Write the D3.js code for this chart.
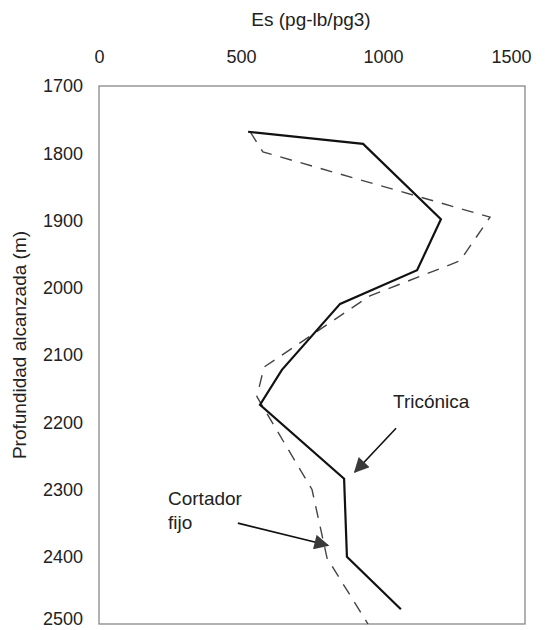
<!DOCTYPE html>
<html>
<head>
<meta charset="utf-8">
<script src="https://cdn.jsdelivr.net/npm/d3@7"></script>
<style>
  body { margin: 0; background: #fff; }
  text { font-family: "Liberation Sans", Arial, sans-serif; fill: #222; }
</style>
</head>
<body>
<svg id="chart" width="549" height="630"></svg>
<script>
// values (Es vs depth)
var xTicks = [0, 500, 1000, 1500];
var yTicks = [1700, 1800, 1900, 2000, 2100, 2200, 2300, 2400, 2500];

// Triconica (solid line)
var triEs    = [525, 930, 1204, 1120, 849, 644, 567, 863, 873, 1063];
var triDepth = [1768, 1786, 1898, 1974, 2024, 2122, 2174, 2284, 2400, 2478];

// Cortador fijo (dashed line)
var cfEs    = [532, 577, 1377, 1271, 954, 581, 556, 750, 803, 947];
var cfDepth = [1768, 1798, 1895, 1960, 2012, 2118, 2162, 2300, 2402, 2500];

// annotation arrows: [Es, depth] from -> to
var triArrow = [[1046, 2209], [901, 2274]];
var cfArrow  = [[489, 2350], [806, 2383]];

var svg = d3.select("#chart");
var pLeft = 99, pRight = 525, pTop = 86, pBottom = 624;

var scX = d3.scaleLinear().domain([0, 1500]).range([pLeft, pRight]);
var scY = d3.scaleLinear().domain([1700, 2500]).range([pTop, pBottom]);

// arrow head
svg.append("defs").append("marker")
    .attr("id", "head")
    .attr("viewBox", "0 0 10 10")
    .attr("refX", 9).attr("refY", 5)
    .attr("markerUnits", "userSpaceOnUse")
    .attr("markerWidth", 18).attr("markerHeight", 15)
    .attr("orient", "auto")
    .append("path")
    .attr("d", "M0,0 L10,5 L0,10 Z")
    .attr("fill", "#3a3a3a");

// plot frame
svg.append("rect")
    .attr("x", pLeft).attr("y", pTop)
    .attr("width", pRight - pLeft).attr("height", pBottom - pTop)
    .attr("fill", "none").attr("stroke", "#888").attr("stroke-width", 1.3);

// axes
var gx = svg.append("g").attr("transform", "translate(0," + pTop + ")")
    .call(d3.axisTop(scX).tickValues(xTicks).tickSize(0).tickPadding(23).tickFormat(d3.format("d")));
gx.select(".domain").remove();
gx.selectAll("text").attr("font-size", 18).style("font-family", "Liberation Sans, Arial, sans-serif").attr("fill", "#222");
gx.selectAll(".tick").filter(d => d === 1500).select("text").attr("dx", -14);

var gy = svg.append("g").attr("transform", "translate(" + pLeft + ",0)")
    .call(d3.axisLeft(scY).tickValues(yTicks).tickSize(0).tickPadding(16).tickFormat(d3.format("d")));
gy.select(".domain").remove();
gy.selectAll("text").attr("font-size", 18).style("font-family", "Liberation Sans, Arial, sans-serif").attr("fill", "#222");
gy.selectAll(".tick").filter(d => d === 2500).select("text").attr("dy", "0.04em");

// axis titles
svg.append("text")
    .attr("x", 311).attr("y", 26)
    .attr("text-anchor", "middle").attr("font-size", 19)
    .text("Es (pg-lb/pg3)");

svg.append("text")
    .attr("transform", "translate(26,345) rotate(-90)")
    .attr("text-anchor", "middle").attr("font-size", 19)
    .text("Profundidad alcanzada (m)");

var lineMaker = d3.line()
    .x(d => scX(d[0]))
    .y(d => scY(d[1]));

var triData = triEs.map((v, i) => [v, triDepth[i]]);
var cfData  = cfEs.map((v, i) => [v, cfDepth[i]]);

svg.append("path")
    .attr("fill", "none").attr("stroke", "#444")
    .attr("stroke-width", 1.4).attr("stroke-dasharray", "12,9")
    .attr("d", lineMaker(cfData));

svg.append("path")
    .attr("fill", "none").attr("stroke", "#111")
    .attr("stroke-width", 2.2).attr("stroke-linejoin", "miter")
    .attr("d", lineMaker(triData));

// annotations
[triArrow, cfArrow].forEach(function (a) {
    svg.append("line")
        .attr("x1", scX(a[0][0])).attr("y1", scY(a[0][1]))
        .attr("x2", scX(a[1][0])).attr("y2", scY(a[1][1]))
        .attr("stroke", "#111").attr("stroke-width", 1.6)
        .attr("marker-end", "url(#head)");
});

svg.append("text")
    .attr("x", 393).attr("y", 408).attr("font-size", 19)
    .text("Tricónica");

svg.append("text")
    .attr("x", 168).attr("y", 505).attr("font-size", 19)
    .text("Cortador");
svg.append("text")
    .attr("x", 168).attr("y", 529).attr("font-size", 19)
    .text("fijo");
</script>
</body>
</html>
